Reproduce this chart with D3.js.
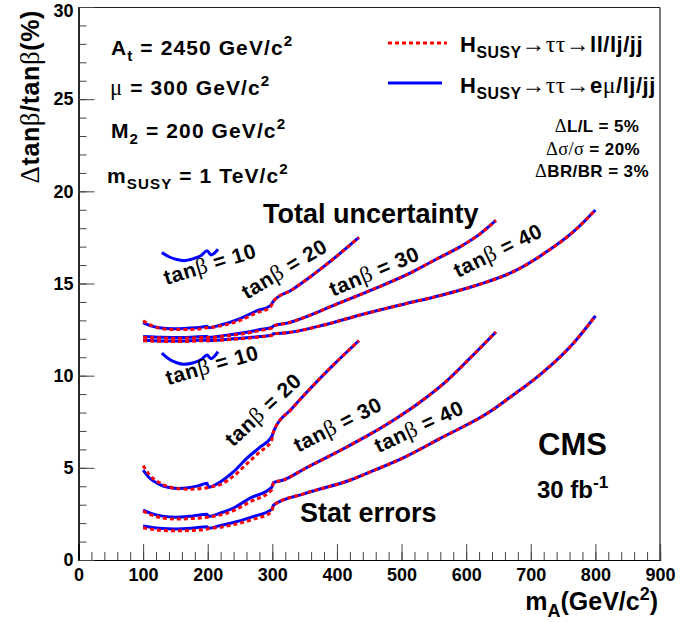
<!DOCTYPE html>
<html><head><meta charset="utf-8">
<script src="https://cdn.jsdelivr.net/npm/d3@7"></script>
<style>
body{margin:0;background:#fff;}
svg{display:block;background:#fff;}
text{font-family:"Liberation Sans",Arial,Helvetica,sans-serif;font-weight:bold;fill:#000;}
</style></head><body>
<svg id="chart" width="699" height="622"></svg>
<script>
// ---------------- data ----------------
const xTicks = [0,100,200,300,400,500,600,700,800,900];
const yTicks = [0,5,10,15,20,25,30];

// tan(beta)=10 : blue only
const massTb10 = [129,140,152,163,178,190,199,205,216];
const totalTb10 = [16.68,16.45,16.3,16.24,16.35,16.52,16.78,16.55,16.86];
const statTb10  = [11.22,10.9,10.7,10.62,10.7,10.88,11.12,10.92,11.3];

// total uncertainty
const massT20 = [100,112,125,147,170,190,199,201,220,250,275,297,302,330,359,395,434];
const totalTb20Blue = [12.88,12.7,12.6,12.55,12.58,12.63,12.68,12.6,12.75,13.1,13.5,13.8,14.05,14.65,15.37,16.35,17.5];
const totalTb20Red  = [12.98,12.74,12.58,12.5,12.5,12.55,12.6,12.6,12.7,13.0,13.4,13.72,14.05,14.65,15.37,16.35,17.5];

const massT30 = [100,130,160,199,201,230,260,281,299,302,323,360,390,450,513,550,591,620,646];
const totalTb30Blue = [12.12,12.08,12.07,12.12,12.08,12.2,12.35,12.5,12.62,12.7,12.85,13.3,13.74,14.6,15.56,16.25,17.0,17.65,18.42];
const totalTb30Red  = [12.08,12.04,12.03,12.07,12.07,12.16,12.3,12.45,12.58,12.7,12.85,13.3,13.74,14.6,15.56,16.25,17.0,17.65,18.42];

const massT40 = [100,130,160,199,201,240,281,299,302,323,380,436,500,560,621,673,725,766,800];
const totalTb40Blue = [11.92,11.88,11.88,11.93,11.9,12.0,12.12,12.2,12.27,12.33,12.75,13.29,13.85,14.35,14.96,15.64,16.73,17.81,18.99];
const totalTb40Red  = [11.9,11.86,11.85,11.9,11.9,11.97,12.1,12.18,12.27,12.33,12.75,13.29,13.85,14.35,14.96,15.64,16.73,17.81,18.99];

// statistical errors
const massS20 = [100,110,125,140,155,170,185,199,201,220,240,260,280,299,302,330,360,395,434];
const statTb20Blue = [4.88,4.45,4.1,3.93,3.88,3.92,4.02,4.16,3.94,4.25,4.79,5.5,6.1,6.7,6.98,8.2,9.35,10.6,11.9];
const statTb20Red  = [5.12,4.62,4.2,3.97,3.87,3.84,3.86,3.92,3.94,4.1,4.55,5.2,5.85,6.5,6.98,8.2,9.35,10.6,11.9];

const massS30 = [100,115,130,150,175,199,201,220,240,265,299,302,317,350,400,450,488,530,570,606,646];
const statTb30Blue = [2.71,2.5,2.38,2.32,2.38,2.48,2.36,2.55,2.82,3.35,3.94,4.2,4.34,4.95,5.85,6.8,7.6,8.6,9.72,10.95,12.37];
const statTb30Red  = [2.65,2.42,2.28,2.22,2.25,2.32,2.33,2.45,2.68,3.15,3.8,4.2,4.34,4.95,5.85,6.8,7.6,8.6,9.72,10.95,12.37];

const massS40 = [100,125,150,175,199,201,220,240,270,299,302,350,421,460,500,560,637,668,714,766,800];
const statTb40Blue = [1.84,1.72,1.68,1.72,1.81,1.72,1.88,2.03,2.35,2.75,2.98,3.6,4.34,4.9,5.5,6.6,8.05,8.83,10.04,11.76,13.24];
const statTb40Red  = [1.75,1.62,1.58,1.6,1.68,1.7,1.78,1.92,2.2,2.62,2.98,3.6,4.34,4.9,5.5,6.6,8.05,8.83,10.04,11.76,13.24];

// curve labels: [tan(beta) value, mass, value, angle]
const curveLabels = [
  ["10", 206.6, 15.68, -17],
  ["10", 209.7, 10.2, -16],
  ["20", 324.2, 15.46, -31],
  ["30", 462, 15.3, -23],
  ["40", 654, 16.44, -26],
  ["20", 293.3, 7.87, -43],
  ["30", 406.3, 7.0, -27],
  ["40", 531.6, 6.89, -25]
];

// ---------------- drawing ----------------
const svg = d3.select("#chart");
const x = d3.scaleLinear().domain([0,900]).range([78.5,660]);
const y = d3.scaleLinear().domain([0,30]).range([560,7]);

const greekFont = '"Liberation Serif","DejaVu Serif",serif';

function rich(sel, parts, size){
  let cur = 0;
  parts.forEach(p=>{
    const [s, type] = p;
    let off = 0, fs = size;
    if(type==="sub"){off = 0.28*size; fs = 0.72*size;}
    if(type==="sup"){off = -0.42*size; fs = 0.72*size;}
    const t = sel.append("tspan").text(s).attr("font-size", fs).attr("dy", off-cur);
    cur = off;
    if(type==="g"){t.attr("font-weight","normal").style("font-family", greekFont).attr("font-size", size*1.08);}
  });
  return sel;
}

// frame
svg.append("line").attr("x1",78.5).attr("x2",660).attr("y1",7.5).attr("y2",7.5).attr("stroke","#222").attr("stroke-width",1.2);
svg.append("line").attr("x1",660).attr("x2",660).attr("y1",7.5).attr("y2",560).attr("stroke","#222").attr("stroke-width",1.2);

// axes
const gx = svg.append("g").attr("transform","translate(0,560)");
gx.call(d3.axisBottom(x).tickValues(d3.range(0,901,20)).tickSize(-8).tickFormat(""));
const gxM = svg.append("g").attr("transform","translate(0,560)");
gxM.call(d3.axisBottom(x).tickValues(xTicks).tickSize(-16).tickPadding(8).tickFormat(d3.format("d")));
const gy = svg.append("g").attr("transform","translate(78.5,0)");
gy.call(d3.axisLeft(y).tickValues(d3.range(0,31,1)).tickSize(-8).tickFormat(""));
const gyM = svg.append("g").attr("transform","translate(78.5,0)");
gyM.call(d3.axisLeft(y).tickValues(yTicks).tickSize(-16).tickPadding(5).tickFormat(d3.format("d")));
svg.selectAll(".domain").attr("stroke","#000").attr("stroke-width",1.2);
svg.selectAll(".tick line").attr("stroke","#444");
svg.selectAll(".tick text").attr("font-size",18).attr("font-weight","bold").attr("fill","#000")
   .style("font-family",'"Liberation Sans",Arial,sans-serif');
gyM.selectAll(".tick text").filter(d=>d===30).attr("dy","0.5em");

// curves
const line = d3.line().x(d=>x(d[0])).y(d=>y(d[1])).curve(d3.curveMonotoneX);
function zip(m,v){return m.map((d,i)=>[d,v[i]]);}
const blueCurves = [
  zip(massTb10,totalTb10), zip(massTb10,statTb10),
  zip(massT20,totalTb20Blue), zip(massT30,totalTb30Blue), zip(massT40,totalTb40Blue),
  zip(massS20,statTb20Blue), zip(massS30,statTb30Blue), zip(massS40,statTb40Blue)
];
const redCurves = [
  zip(massT20,totalTb20Red), zip(massT30,totalTb30Red), zip(massT40,totalTb40Red),
  zip(massS20,statTb20Red), zip(massS30,statTb30Red), zip(massS40,statTb40Red)
];
svg.append("g").selectAll("path").data(blueCurves).join("path")
  .attr("d",line).attr("fill","none").attr("stroke","#0000ff").attr("stroke-width",3);
svg.append("g").selectAll("path").data(redCurves).join("path")
  .attr("d",line).attr("fill","none").attr("stroke","#ff0000").attr("stroke-width",3)
  .attr("stroke-dasharray","4,3");

// curve labels
curveLabels.forEach(([val,m,v,a])=>{
  const t = svg.append("text").attr("text-anchor","middle").attr("dy","0.35em")
    .attr("transform",`translate(${x(m)},${y(v)}) rotate(${a})`).attr("font-size",21)
    .attr("letter-spacing",0.6);
  rich(t,[["tan","n"],["β","g"],[" = "+val,"n"]],21);
});

// axis titles
const yt = svg.append("text").attr("text-anchor","end").attr("transform","translate(39,10) rotate(-90)").attr("font-size",25)
  .attr("letter-spacing",0.6);
rich(yt,[["Δ","g"],["tan","n"],["β","g"],["/tan","n"],["β","g"],["(%)","n"]],25);
const xt = svg.append("text").attr("text-anchor","end").attr("x",658).attr("y",610).attr("font-size",25);
rich(xt,[["m","n"],["A","sub"],["(GeV/c","n"],["2","sup"],[")","n"]],25);

// parameter text
const pSize = 21, pSp = 1.1;
const p1 = svg.append("text").attr("x",111).attr("y",55).attr("font-size",pSize).attr("letter-spacing",pSp);
rich(p1,[["A","n"],["t","sub"],[" = 2450 GeV/c","n"],["2","sup"]],pSize);
const p2 = svg.append("text").attr("x",110).attr("y",95).attr("font-size",pSize).attr("letter-spacing",pSp);
rich(p2,[["μ","g"],[" = 300 GeV/c","n"],["2","sup"]],pSize);
const p3 = svg.append("text").attr("x",111).attr("y",138).attr("font-size",pSize).attr("letter-spacing",pSp);
rich(p3,[["M","n"],["2","sub"],[" = 200 GeV/c","n"],["2","sup"]],pSize);
const p4 = svg.append("text").attr("x",107).attr("y",183).attr("font-size",pSize).attr("letter-spacing",pSp);
rich(p4,[["m","n"],["SUSY","sub"],[" = 1 TeV/c","n"],["2","sup"]],pSize);

// legend
svg.append("line").attr("x1",388).attr("x2",447).attr("y1",43).attr("y2",43)
  .attr("stroke","#ff0000").attr("stroke-width",3).attr("stroke-dasharray","4,3");
svg.append("line").attr("x1",388).attr("x2",442).attr("y1",83).attr("y2",83)
  .attr("stroke","#0000ff").attr("stroke-width",3);
const l1 = svg.append("text").attr("x",460).attr("y",52).attr("font-size",22).attr("letter-spacing",0.5);
rich(l1,[["H","n"],["SUSY","sub"],["→ττ→","g"],["ll/lj/jj","n"]],22);
const l2 = svg.append("text").attr("x",460).attr("y",93).attr("font-size",22).attr("letter-spacing",0.5);
rich(l2,[["H","n"],["SUSY","sub"],["→ττ→","g"],["e","n"],["μ","g"],["/lj/jj","n"]],22);

const sSize = 17;
const s1 = svg.append("text").attr("x",597).attr("y",132).attr("text-anchor","middle").attr("font-size",sSize).attr("letter-spacing",0.4);
rich(s1,[["Δ","g"],["L/L = 5%","n"]],sSize);
const s2 = svg.append("text").attr("x",593).attr("y",155).attr("text-anchor","middle").attr("font-size",sSize).attr("letter-spacing",0.4);
rich(s2,[["Δσ/σ","g"],[" = 20%","n"]],sSize);
const s3 = svg.append("text").attr("x",592).attr("y",177).attr("text-anchor","middle").attr("font-size",sSize).attr("letter-spacing",0.4);
rich(s3,[["Δ","g"],["BR/BR = 3%","n"]],sSize);

// section labels
svg.append("text").attr("x",263).attr("y",223).attr("font-size",27).text("Total uncertainty");
svg.append("text").attr("x",300).attr("y",522).attr("font-size",27).text("Stat errors");
svg.append("text").attr("x",538).attr("y",455).attr("font-size",31).text("CMS");
const lumi = svg.append("text").attr("x",537).attr("y",498).attr("font-size",24);
rich(lumi,[["30 fb","n"],["-1","sup"]],24);
</script>
</body></html>
